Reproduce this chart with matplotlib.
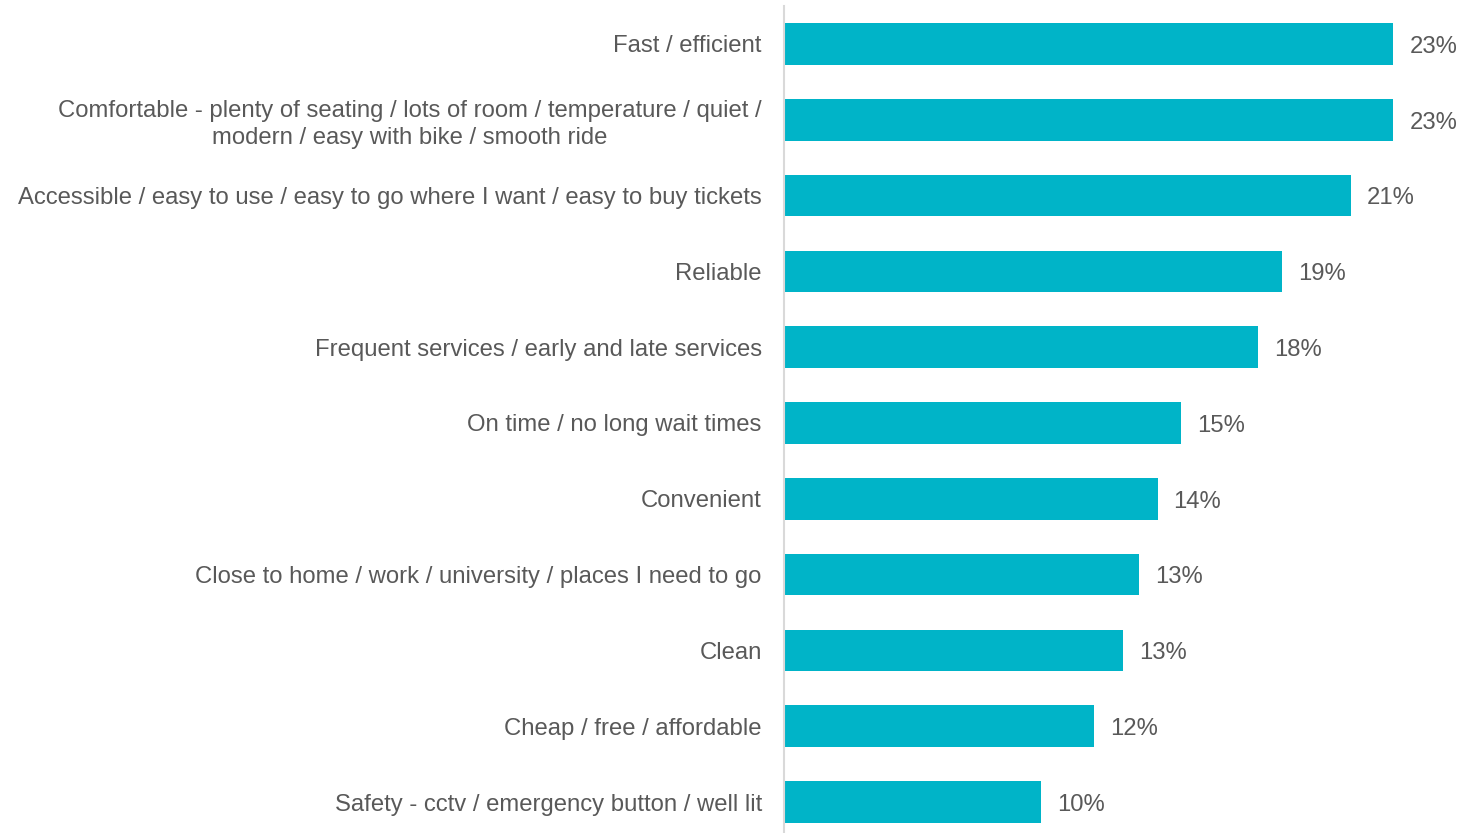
import matplotlib
matplotlib.use("Agg")
import matplotlib.pyplot as plt

categories = [
    "Fast / efficient",
    "Comfortable - plenty of seating / lots of room / temperature / quiet /\nmodern / easy with bike / smooth ride",
    "Accessible / easy to use / easy to go where I want / easy to buy tickets",
    "Reliable",
    "Frequent services / early and late services",
    "On time / no long wait times",
    "Convenient",
    "Close to home / work / university / places I need to go",
    "Clean",
    "Cheap / free / affordable",
    "Safety - cctv / emergency button / well lit",
]
values = [23.0, 23.0, 21.4, 18.8, 17.9, 15.0, 14.1, 13.4, 12.8, 11.7, 9.7]

BAR_COLOR = "#00B4C8"
TEXT_COLOR = "#595959"

plt.rcParams["font.family"] = ["Liberation Sans", "DejaVu Sans"]

W, H = 1461, 833
fig = plt.figure(figsize=(W / 100, H / 100), dpi=100)
ax = fig.add_axes([784 / W, -7 / H, 1 - 784 / W, 834 / H])

y = range(len(categories))
ax.barh(y, values, height=0.55, color=BAR_COLOR)
ax.set_ylim(len(categories) - 0.5, -0.5)
ax.set_xlim(0, 25.55)

# percentage labels just past the end of each bar
for yi, v in zip(y, values):
    ax.annotate(f"{v:.0f}%", (v, yi), xytext=(11.5, -2), textcoords="offset points",
                ha="left", va="center", fontsize=17.2, color=TEXT_COLOR)

ax.set_yticks(list(y))
ax.set_yticklabels(categories, fontsize=17.2, color=TEXT_COLOR, ha="right",
                   multialignment="center", linespacing=1.3)
ax.tick_params(axis="y", length=0, pad=16)
ax.set_xticks([])

for side in ["top", "right", "bottom"]:
    ax.spines[side].set_visible(False)
ax.spines["left"].set_color("#d9d9d9")
ax.spines["left"].set_linewidth(1.5)

fig.savefig("out.png", dpi=100)
